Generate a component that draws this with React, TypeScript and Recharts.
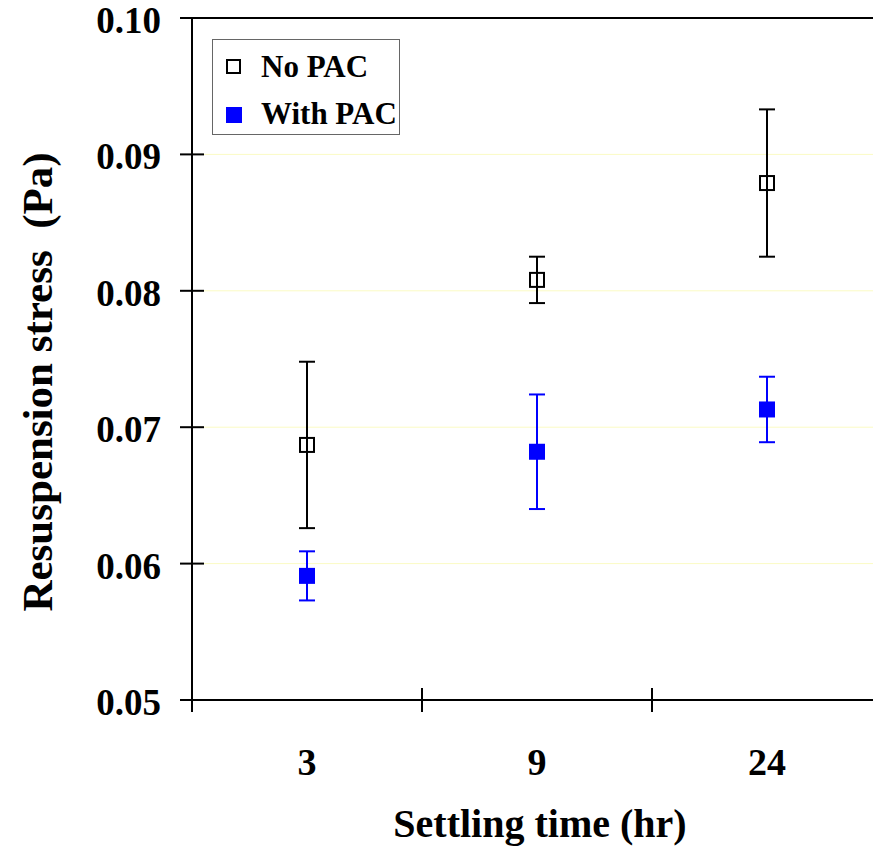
import {
  ComposedChart, Scatter, ErrorBar, XAxis, YAxis,
  CartesianGrid, ReferenceLine, Legend,
} from "recharts"

// settling time categories (hr)
const settlingTimes = ["3", "9", "24"]
// resuspension stress (Pa) and +/- error
const noPac = [0.0687, 0.0808, 0.0879]
const noPacErr = [0.0061, 0.0017, 0.0054]
const withPac = [0.0591, 0.0682, 0.0713]
const withPacErr = [0.0018, 0.0042, 0.0024]
const yTicks = [0.05, 0.06, 0.07, 0.08, 0.09, 0.1]

const data = settlingTimes.map((t, i) => ({
  time: t,
  noPac: noPac[i],
  noPacErr: noPacErr[i],
  withPac: withPac[i],
  withPacErr: withPacErr[i],
}))

const FONT = "'Liberation Serif', 'Times New Roman', Times, serif"
const BLUE = "#0000ff"
const CHART_W = 900
const CHART_H = 852
const LEFT = 192
const RIGHT_M = 18
const HALF_BAND = (CHART_W - LEFT - RIGHT_M) / settlingTimes.length / 2

const OpenSquare = (p: any) => (
  <rect x={p.cx - 7} y={p.cy - 7} width={14} height={14} fill="none" stroke="#000" strokeWidth={2} />
)
const FilledSquare = (p: any) => (
  <rect x={p.cx - 8} y={p.cy - 8} width={16} height={16} fill={BLUE} />
)

const YTick = ({ x, y, payload }: any) => (
  <g>
    <line x1={x - 12} x2={x + 12} y1={y} y2={y} stroke="#000" strokeWidth={2} />
    <text x={x - 31} y={y + 15} textAnchor="end" fontFamily={FONT} fontWeight="bold" fontSize={37} fill="#000">
      {Number(payload.value).toFixed(2)}
    </text>
  </g>
)

const XTick = ({ x, y, payload }: any) => (
  <g>
    <line x1={x - HALF_BAND} x2={x - HALF_BAND} y1={y - 12} y2={y + 12} stroke="#000" strokeWidth={2} />
    <text x={x} y={y + 75} textAnchor="middle" fontFamily={FONT} fontWeight="bold" fontSize={38} fill="#000">
      {payload.value}
    </text>
  </g>
)

const XTitle = ({ viewBox }: any) => (
  <text x={viewBox.x + viewBox.width / 2 + 3} y={viewBox.y + viewBox.height - 15} textAnchor="middle"
    fontFamily={FONT} fontWeight="bold" fontSize={40} fill="#000">
    Settling time (hr)
  </text>
)

const YTitle = ({ viewBox }: any) => (
  <text transform={`translate(52, ${viewBox.y + viewBox.height / 2 + 23}) rotate(-90)`} textAnchor="middle"
    fontFamily={FONT} fontWeight="bold" fontSize={43} fill="#000">
    Resuspension stress{"\u00a0 "}(Pa)
  </text>
)

const series = [
  { name: "No PAC", open: true },
  { name: "With PAC", open: false },
]

const LegendBox = () => (
  <div style={{ border: "1px solid #666", background: "#fff", width: 186, height: 94 }}>
    <svg width={186} height={94}>
      {series.map((s, i) => (
        <g key={s.name}>
          {s.open ? (
            <rect x={14} y={20 + i * 48} width={13} height={13} fill="none" stroke="#000" strokeWidth={2} />
          ) : (
            <rect x={13} y={19 + i * 48} width={16} height={16} fill={BLUE} />
          )}
          <text x={48} y={37 + i * 47} fontFamily={FONT} fontWeight="bold" fontSize={31} fill="#000">
            {s.name}
          </text>
        </g>
      ))}
    </svg>
  </div>
)

export default function App() {
  return (
    <div style={{ position: "fixed", left: 0, top: 0, width: 873, height: 852, overflow: "hidden", background: "#fff" }}>
      <ComposedChart width={CHART_W} height={CHART_H} data={data}
        margin={{ top: 18, right: RIGHT_M, bottom: 0, left: 0 }}>
        <CartesianGrid horizontal vertical={false} stroke="#fbfbc4" />
        <XAxis dataKey="time" type="category" scale="band" height={152} tickSize={0} tickMargin={0}
          axisLine={{ stroke: "#000", strokeWidth: 2 }} tickLine={false} tick={<XTick />}
          label={<XTitle />} />
        <YAxis type="number" domain={[0.05, 0.1]} ticks={yTicks} width={LEFT} allowDataOverflow
          tickSize={0} tickMargin={0} axisLine={{ stroke: "#000", strokeWidth: 2 }} tickLine={false}
          tick={<YTick />} label={<YTitle />} />
        <ReferenceLine y={0.1} stroke="#000" strokeWidth={2} />
        <Legend layout="vertical" align="center" verticalAlign="middle" content={<LegendBox />}
          wrapperStyle={{ position: "absolute", left: 212, top: 39, width: 188, height: 96 }} />
        <Scatter name="No PAC" dataKey="noPac" shape={<OpenSquare />} isAnimationActive={false}>
          <ErrorBar dataKey="noPacErr" direction="y" width={8} stroke="#000" strokeWidth={2} />
        </Scatter>
        <Scatter name="With PAC" dataKey="withPac" shape={<FilledSquare />} isAnimationActive={false}>
          <ErrorBar dataKey="withPacErr" direction="y" width={8} stroke={BLUE} strokeWidth={2} />
        </Scatter>
      </ComposedChart>
    </div>
  )
}
